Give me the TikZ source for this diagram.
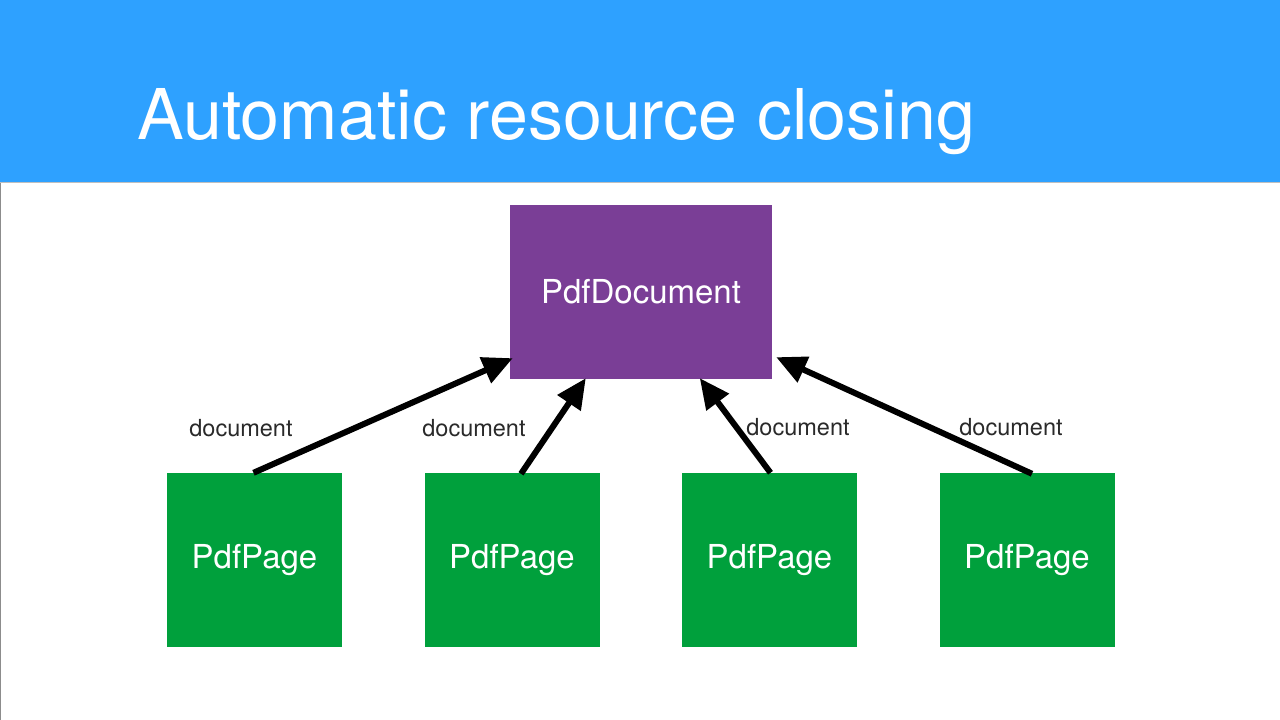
\documentclass[tikz,border=0pt]{standalone}
\usepackage{fontspec}
\setmainfont{TeX Gyre Heros}
\usetikzlibrary{arrows.meta,calc}
\definecolor{hdrblue}{HTML}{2EA1FF}
\definecolor{docpurple}{HTML}{7A3E96}
\definecolor{pagegreen}{HTML}{00A03C}
\definecolor{lblgray}{HTML}{2A2A2A}
\tikzset{
  pagebox/.style={fill=pagegreen, draw=none, minimum width=175pt, minimum height=174pt, inner sep=0pt, text=white, font=\fontsize{33}{36}\selectfont},
  docbox/.style={fill=docpurple, draw=none, minimum width=262pt, minimum height=174pt, inner sep=0pt, text=white, font=\fontsize{33}{36}\selectfont},
  reflabel/.style={text=lblgray, font=\fontsize{23.5}{26}\selectfont, inner sep=0pt},
  refarrow/.style={line width=6pt, -{Triangle[length=30pt,width=27pt]}, black}
}
\begin{document}
\begin{tikzpicture}[x=1pt,y=1pt]
\useasboundingbox (0,0) rectangle (1280,720);
\fill[white] (0,0) rectangle (1280,720);
% header
\fill[hdrblue] (0,538) rectangle (1280,720);
\fill[black!25] (0,536.5) rectangle (1280,538);
\draw[black!45, line width=1.2pt] (0.6,0) -- (0.6,536.5);
\node[anchor=base west, text=white, inner sep=0pt, font=\fontsize{70}{80}\selectfont] (title) at (137,580) {Automatic resource closing};
% nodes
\node[docbox] (doc) at (641,428) {PdfDocument};
\node[pagebox] (p1) at (254.5,160) {\raisebox{-3pt}{PdfPage}};
\node[pagebox] (p2) at (512,160) {\raisebox{-3pt}{PdfPage}};
\node[pagebox] (p3) at (769.5,160) {\raisebox{-3pt}{PdfPage}};
\node[pagebox] (p4) at (1027,160) {\raisebox{-3pt}{PdfPage}};
% arrow targets
\coordinate (t1) at ($(doc.south west)+(3,21)$);
\coordinate (t2) at ($(doc.south west)+(76,1)$);
\coordinate (t3) at ($(doc.south west)+(190,1)$);
\coordinate (t4) at ($(doc.south east)+(4,22)$);
\draw[refarrow] ($(p1.north)+(-1,0)$) -- (t1);
\draw[refarrow] ($(p2.north)+(9,-1)$) -- (t2);
\draw[refarrow] ($(p3.north)+(1,0)$) -- (t3);
\draw[refarrow] ($(p4.north)+(5,-1)$) -- (t4);
% labels
\node[reflabel] (l1) at (241,292) {document};
\node[reflabel] (l2) at (474,292) {document};
\node[reflabel] (l3) at (798,293) {document};
\node[reflabel] (l4) at (1011,293) {document};
\end{tikzpicture}
\end{document}
